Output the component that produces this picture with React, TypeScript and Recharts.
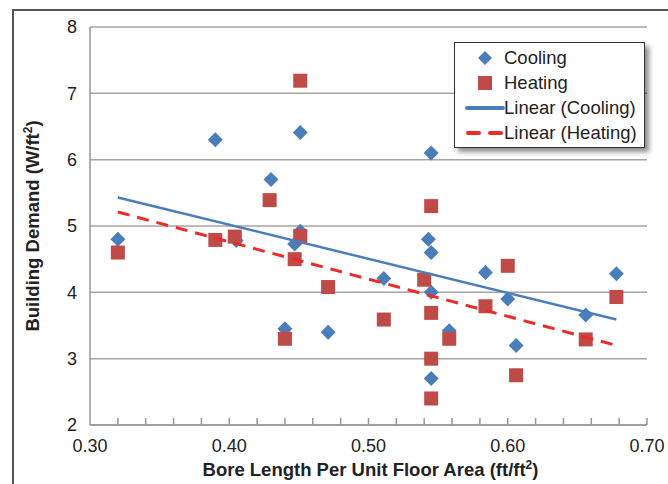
import React from 'react';
import { ScatterChart, Scatter, XAxis, YAxis, CartesianGrid } from 'recharts';

// values
const coolingX = [0.32, 0.39, 0.405, 0.43, 0.44, 0.447, 0.451, 0.451, 0.471, 0.511, 0.543, 0.545, 0.545, 0.545, 0.545, 0.558, 0.584, 0.6, 0.606, 0.656, 0.678];
const coolingY = [4.8, 6.3, 4.78, 5.7, 3.45, 4.73, 4.92, 6.41, 3.4, 4.21, 4.8, 4.6, 6.1, 4.0, 2.7, 3.42, 4.3, 3.9, 3.2, 3.66, 4.28];
const heatingX = [0.32, 0.39, 0.404, 0.429, 0.44, 0.447, 0.451, 0.451, 0.471, 0.511, 0.54, 0.545, 0.545, 0.545, 0.545, 0.558, 0.584, 0.6, 0.606, 0.656, 0.678];
const heatingY = [4.6, 4.79, 4.84, 5.39, 3.3, 4.5, 4.85, 7.19, 4.08, 3.59, 4.19, 5.3, 3.69, 3.0, 2.4, 3.3, 3.79, 4.4, 2.75, 3.29, 3.93];
const trendX = [0.32, 0.678];
const coolingTrendY = [5.43, 3.59];
const heatingTrendY = [5.21, 3.2];

const xTicks = [0.3, 0.32, 0.34, 0.36, 0.38, 0.4, 0.42, 0.44, 0.46, 0.48, 0.5, 0.52, 0.54, 0.56, 0.58, 0.6, 0.62, 0.64, 0.66, 0.68, 0.7];
const yTicks = [2, 3, 4, 5, 6, 7, 8];
const legendLabels = ['Cooling', 'Heating', 'Linear (Cooling)', 'Linear (Heating)'];

const FONT = '"Liberation Sans", Arial, sans-serif';
const BLUE = '#4a7ebb';
const RED = '#be4b48';
const RED_LINE = '#ec2a2a';
const GRID = '#aaa39e';
const AXIS = '#9d9590';

const toPoints = (xs: number[], ys: number[]) => xs.map((x, i) => ({ x, y: ys[i] }));
const cooling = toPoints(coolingX, coolingY);
const heating = toPoints(heatingX, heatingY);
const coolingTrend = toPoints(trendX, coolingTrendY);
const heatingTrend = toPoints(trendX, heatingTrendY);

const Diamond = (props: any) => {
  const { cx, cy } = props;
  const r = 7.5;
  return <polygon points={`${cx},${cy - r} ${cx + r},${cy} ${cx},${cy + r} ${cx - r},${cy}`} fill={BLUE} />;
};

const Square = (props: any) => {
  const { cx, cy } = props;
  const s = 14;
  return <rect x={cx - s / 2} y={cy - s / 2} width={s} height={s} fill={RED} />;
};

const NoDot = () => <g />;

const XTick = (props: any) => {
  const { x, y, payload } = props;
  const v = payload.value;
  const major = Math.abs(v * 10 - Math.round(v * 10)) < 1e-6;
  return (
    <g>
      {v > 0.301 && <line x1={x} x2={x} y1={y} y2={y - 7} stroke={AXIS} strokeWidth={1.5} />}
      {major && (
        <text x={x} y={y} dy={27} textAnchor="middle" fontSize={18} fill="#222" fontFamily={FONT}>
          {v.toFixed(2)}
        </text>
      )}
    </g>
  );
};

const XTitle = (props: any) => {
  const vb = props.viewBox;
  return (
    <text x={vb.x + vb.width / 2 + 2} y={476} textAnchor="middle" fontSize={18.5} fontWeight="bold" fill="#222" fontFamily={FONT}>
      Bore Length Per Unit Floor Area (ft/ft<tspan dy={-7} fontSize={12}>2</tspan><tspan dy={7}>)</tspan>
    </text>
  );
};

const YTitle = (props: any) => {
  const vb = props.viewBox;
  const cy = vb.y + vb.height / 2;
  return (
    <text x={33} y={cy} transform={`rotate(-90 33 ${cy})`} dy={6} textAnchor="middle" fontSize={18.5} fontWeight="bold" fill="#222" fontFamily={FONT}>
      Building Demand (W/ft<tspan dy={-7} fontSize={12}>2</tspan><tspan dy={7}>)</tspan>
    </text>
  );
};

const LegendIcon = ({ i }: { i: number }) => (
  <svg width={40} height={20}>
    {i === 0 && <polygon points="20,3 27,10 20,17 13,10" fill={BLUE} />}
    {i === 1 && <rect x={13} y={3} width={14} height={14} fill={RED} />}
    {i === 2 && <line x1={2} x2={38} y1={10} y2={10} stroke={BLUE} strokeWidth={4} strokeLinecap="round" />}
    {i === 3 && <line x1={3} x2={38} y1={10} y2={10} stroke={RED_LINE} strokeWidth={4} strokeLinecap="round" strokeDasharray="11 11" />}
  </svg>
);

export default function App() {
  return (
    <div style={{ position: 'absolute', left: 0, top: 0, width: 668, height: 484, background: '#fff', fontFamily: FONT }}>
      <div style={{ position: 'absolute', left: 12, top: 9, width: 656, height: 475, borderTop: '2px solid #555', borderLeft: '2px solid #555' }} />
      <ScatterChart width={668} height={484} margin={{ top: 27, right: 21, bottom: 29, left: 50 }}>
        <CartesianGrid vertical={false} stroke={GRID} strokeWidth={1.5} />
        <XAxis
          type="number"
          dataKey="x"
          domain={[0.3, 0.7]}
          ticks={xTicks}
          interval={0}
          height={30}
          tickSize={0}
          tickMargin={0}
          tickLine={false}
          tick={<XTick />}
          axisLine={{ stroke: AXIS, strokeWidth: 1.5 }}
          label={<XTitle />}
        />
        <YAxis
          type="number"
          dataKey="y"
          domain={[2, 8]}
          ticks={yTicks}
          interval={0}
          width={40}
          tickSize={0}
          tickMargin={13}
          tickLine={false}
          tick={{ fontSize: 18, fill: '#222', fontFamily: FONT }}
          axisLine={{ stroke: AXIS, strokeWidth: 1.5 }}
          label={<YTitle />}
        />
        <Scatter name="Cooling" data={cooling} shape={<Diamond />} isAnimationActive={false} />
        <Scatter name="Heating" data={heating} shape={<Square />} isAnimationActive={false} />
        <Scatter name="Linear (Cooling)" data={coolingTrend} shape={<NoDot />} line={{ stroke: BLUE, strokeWidth: 2.5 }} isAnimationActive={false} />
        <Scatter name="Linear (Heating)" data={heatingTrend} shape={<NoDot />} line={{ stroke: RED_LINE, strokeWidth: 3, strokeDasharray: '12 8' }} isAnimationActive={false} />
      </ScatterChart>
      <div
        style={{
          position: 'absolute', left: 454, top: 42, width: 191, height: 106, boxSizing: 'border-box',
          border: '1.5px solid #333', background: '#fff', boxShadow: '4px 4px 5px rgba(0,0,0,0.45)', paddingTop: 2,
        }}
      >
        {legendLabels.map((label, i) => (
          <div key={label} style={{ display: 'flex', alignItems: 'center', height: 25 }}>
            <div style={{ width: 48, display: 'flex', justifyContent: 'center', marginLeft: 6 }}>
              <LegendIcon i={i} />
            </div>
            <span style={{ fontSize: 18.5, color: '#222', marginLeft: -5, whiteSpace: 'nowrap' }}>{label}</span>
          </div>
        ))}
      </div>
    </div>
  );
}
